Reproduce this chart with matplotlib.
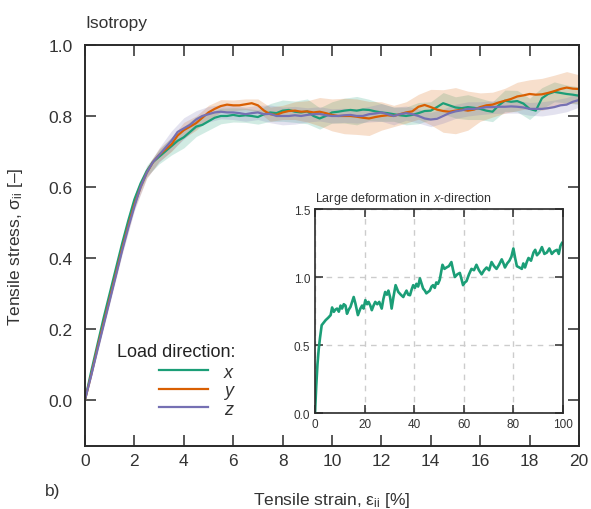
import numpy as np
import matplotlib.pyplot as plt

plt.rcParams['font.family'] = ['Liberation Sans', 'DejaVu Sans']
plt.rcParams['mathtext.fontset'] = 'custom'
plt.rcParams['mathtext.rm'] = 'Liberation Sans'
plt.rcParams['mathtext.it'] = 'Liberation Sans:italic'
plt.rcParams['text.color'] = '#333333'

# main plot: mean stress curves, sampled every 0.25 % strain
strain = np.linspace(0, 20, 81)
stress_x = [0.0, 0.08, 0.155, 0.23, 0.30, 0.37, 0.44, 0.505, 0.565, 0.61,
            0.645, 0.67, 0.685, 0.70, 0.715, 0.73, 0.74, 0.755, 0.77, 0.775,
            0.785, 0.795, 0.80, 0.80, 0.803, 0.80, 0.802, 0.80, 0.797, 0.805,
            0.81, 0.808, 0.815, 0.817, 0.812, 0.81, 0.813, 0.80, 0.793, 0.80,
            0.81, 0.812, 0.815, 0.817, 0.815, 0.818, 0.817, 0.813, 0.81, 0.808,
            0.805, 0.802, 0.80, 0.803, 0.808, 0.814, 0.815, 0.825, 0.836, 0.83,
            0.824, 0.822, 0.825, 0.823, 0.82, 0.815, 0.812, 0.83, 0.843, 0.84,
            0.842, 0.835, 0.82, 0.815, 0.85, 0.862, 0.868, 0.865, 0.862, 0.86,
            0.857]
stress_y = [0.0, 0.07, 0.145, 0.215, 0.285, 0.355, 0.425, 0.49, 0.55, 0.60,
            0.64, 0.67, 0.69, 0.705, 0.72, 0.745, 0.76, 0.77, 0.78, 0.795,
            0.81, 0.82, 0.828, 0.832, 0.83, 0.83, 0.833, 0.836, 0.83, 0.815,
            0.805, 0.803, 0.81, 0.814, 0.815, 0.812, 0.813, 0.81, 0.812, 0.808,
            0.803, 0.80, 0.80, 0.80, 0.798, 0.795, 0.793, 0.797, 0.80, 0.802,
            0.80, 0.805, 0.81, 0.813, 0.826, 0.831, 0.825, 0.818, 0.814, 0.812,
            0.815, 0.818, 0.815, 0.818, 0.825, 0.83, 0.832, 0.838, 0.843, 0.848,
            0.855, 0.858, 0.862, 0.86, 0.861, 0.865, 0.87, 0.876, 0.88, 0.877,
            0.876]
stress_z = [0.0, 0.068, 0.14, 0.21, 0.28, 0.35, 0.42, 0.485, 0.545, 0.60,
            0.64, 0.67, 0.69, 0.71, 0.73, 0.755, 0.765, 0.775, 0.79, 0.80,
            0.805, 0.81, 0.812, 0.81, 0.81, 0.808, 0.805, 0.808, 0.81, 0.805,
            0.806, 0.80, 0.80, 0.80, 0.802, 0.80, 0.803, 0.805, 0.806, 0.802,
            0.80, 0.80, 0.802, 0.803, 0.80, 0.80, 0.805, 0.807, 0.81, 0.805,
            0.80, 0.805, 0.808, 0.805, 0.80, 0.793, 0.79, 0.792, 0.80, 0.808,
            0.813, 0.816, 0.82, 0.82, 0.822, 0.825, 0.825, 0.826, 0.826, 0.827,
            0.826, 0.824, 0.82, 0.82, 0.82, 0.822, 0.825, 0.83, 0.832, 0.84,
            0.845]

# scatter band half-widths, every 0.5 % strain
spread_x = [0.0, 0.01, 0.01, 0.012, 0.012, 0.015, 0.02, 0.025, 0.03, 0.028,
            0.025, 0.022, 0.02, 0.02, 0.02, 0.025, 0.03, 0.03, 0.035, 0.03,
            0.03, 0.035, 0.04, 0.03, 0.025, 0.02, 0.025, 0.03, 0.025, 0.03,
            0.03, 0.035, 0.03, 0.028, 0.03, 0.03, 0.03, 0.03, 0.028, 0.025,
            0.025]
spread_y = [0.0, 0.008, 0.01, 0.012, 0.012, 0.015, 0.018, 0.02, 0.022, 0.02,
            0.02, 0.018, 0.015, 0.015, 0.018, 0.02, 0.02, 0.025, 0.03, 0.04,
            0.045, 0.05, 0.05, 0.048, 0.04, 0.03, 0.03, 0.035, 0.05, 0.06,
            0.065, 0.055, 0.04, 0.035, 0.035, 0.04, 0.04, 0.045, 0.045, 0.045,
            0.04]
spread_z = [0.0, 0.008, 0.01, 0.012, 0.012, 0.015, 0.02, 0.028, 0.03, 0.025,
            0.022, 0.02, 0.02, 0.02, 0.02, 0.025, 0.025, 0.025, 0.02, 0.02,
            0.02, 0.02, 0.02, 0.022, 0.025, 0.025, 0.02, 0.02, 0.02, 0.02,
            0.02, 0.02, 0.018, 0.018, 0.018, 0.018, 0.018, 0.02, 0.02, 0.02,
            0.02]

# inset: large deformation in x
big_strain = [0, 0.5, 1, 1.5, 2, 2.7, 3.5, 4.3, 5.3, 6.3,
              6.9, 7.6, 8.2, 8.9, 9.6, 10.3, 10.9, 11.6, 12.3, 12.9,
              13.6, 14.3, 15.0, 15.6, 16.3, 17.3, 18.3, 19.0, 19.6, 20.3,
              21.0, 21.6, 22.3, 22.9, 23.6, 24.3, 25.1, 25.9, 26.9, 27.6,
              28.3, 29.0, 29.6, 30.3, 30.9, 31.7, 32.5, 33.6, 34.6, 35.6,
              36.3, 36.9, 37.6, 38.3, 39.0, 39.6, 40.3, 40.9, 41.6, 42.3,
              43.0, 43.6, 44.3, 44.9, 45.6, 46.3, 47.0, 47.6, 48.3, 48.9,
              49.6, 50.3, 51.4, 52.2, 53.0, 54.0, 55.0, 55.7, 56.4, 57.4,
              58.4, 59.0, 59.7, 60.4, 61.1, 62.1, 63.1, 64.1, 65.1, 66.1,
              67.2, 68.2, 69.2, 70.2, 71.2, 72.2, 73.2, 74.2, 75.3, 76.0,
              76.6, 77.5, 78.4, 79.2, 80.0, 80.7, 81.4, 82.4, 83.4, 84.0,
              84.7, 85.4, 86.1, 87.1, 88.1, 88.8, 89.5, 90.5, 91.5, 92.5,
              93.5, 94.5, 95.5, 96.5, 97.6, 98.3, 99.0, 99.6]
big_stress = [0, 0.2, 0.36, 0.47, 0.55, 0.646, 0.665, 0.683, 0.70, 0.72,
              0.776, 0.744, 0.76, 0.768, 0.745, 0.79, 0.768, 0.80, 0.79, 0.73,
              0.76, 0.78, 0.82, 0.853, 0.805, 0.72, 0.768, 0.79, 0.768, 0.83,
              0.80, 0.817, 0.79, 0.756, 0.79, 0.817, 0.80, 0.817, 0.768, 0.84,
              0.89, 0.87, 0.90, 0.85, 0.768, 0.86, 0.94, 0.89, 0.87, 0.853,
              0.88, 0.90, 0.87, 0.866, 0.91, 0.94, 0.92, 0.95, 0.93, 0.99,
              0.95, 0.915, 0.90, 0.88, 0.89, 0.90, 0.93, 0.94, 0.92, 0.96,
              0.95, 0.98, 1.09, 1.06, 1.07, 1.08, 1.11, 1.05, 1.00, 1.02,
              1.03, 0.99, 0.94, 0.96, 0.97, 1.02, 1.06, 1.05, 1.09, 1.05,
              1.02, 1.05, 1.07, 1.05, 1.11, 1.08, 1.06, 1.09, 1.13, 1.10,
              1.07, 1.10, 1.12, 1.15, 1.21, 1.14, 1.08, 1.07, 1.06, 1.10,
              1.07, 1.11, 1.14, 1.12, 1.18, 1.20, 1.16, 1.18, 1.22, 1.17,
              1.18, 1.21, 1.17, 1.19, 1.20, 1.17, 1.23, 1.25]

labels = ['x', 'y', 'z']
colors = ['#1b9e77', '#d95f02', '#7570b3']
edge = '#2a2a2a'

fig = plt.figure(figsize=(5.91, 5.10), dpi=100)
ax = fig.add_axes([0.1438, 0.1235, 0.8359, 0.7863])

band_strain = strain[::2]
for mean, spread, col in zip([stress_x, stress_y, stress_z],
                             [spread_x, spread_y, spread_z], colors):
    m = np.array(mean)[::2]
    s = np.array(spread)
    ax.fill_between(band_strain, m - s, m + s, color=col, alpha=0.2, lw=0)
for mean, lab, col in zip([stress_x, stress_y, stress_z], labels, colors):
    ax.plot(strain, mean, color=col, lw=1.6, label=lab)

ax.set_xlim(0, 20)
ax.set_ylim(-0.13, 1.0)
ax.set_xticks(range(0, 21, 2))
ax.set_yticks([0.0, 0.2, 0.4, 0.6, 0.8, 1.0])
ax.set_yticklabels(['0.0', '0.2', '0.4', '0.6', '0.8', '1.0'])
ax.tick_params(direction='in', top=True, right=True, length=8, width=1.1,
               color=edge, labelsize=12.5, labelcolor='#333333')
ax.tick_params(axis='x', pad=5)
ax.tick_params(axis='y', pad=9)
for sp in ax.spines.values():
    sp.set_color(edge)
    sp.set_linewidth(1.4)

ax.set_xlabel('Tensile strain, $\\mathregular{ε_{ii}}$ [%]', fontsize=12.5,
              labelpad=16, color='#333333')
ax.set_ylabel('Tensile stress, $\\mathregular{σ_{ii}}$ [–]', fontsize=12.5,
              labelpad=17, color='#333333')

fig.text(85 / 591, 1 - 28 / 510, 'Isotropy', fontsize=12.5, va='baseline')
fig.text(45 / 591, 1 - 492 / 510, 'b)', fontsize=12.5, va='center')

# legend title drawn separately so its gap to the entries can be set
fig.text(235 / 591, 1 - 357 / 510, 'Load direction:', fontsize=13,
         ha='right', va='baseline', color='#222222')
ax.legend(frameon=False, loc='upper right', bbox_to_anchor=(0.30, 0.205),
          prop={'style': 'italic', 'size': 13},
          handlelength=2.7, handletextpad=0.9, labelspacing=0.08,
          borderpad=0, borderaxespad=0)

# inset
ins = fig.add_axes([0.533, 0.1882, 0.4196, 0.4])
ins.plot(big_strain, big_stress, color=colors[0], lw=1.9)
ins.set_xlim(0, 100)
ins.set_ylim(0, 1.5)
ins.set_xticks(range(0, 101, 20))
ins.set_yticks([0.0, 0.5, 1.0, 1.5])
ins.set_yticklabels(['0.0', '0.5', '1.0', '1.5'])
ins.grid(True, color='#cccccc', linestyle=(0, (4, 4)), lw=1.0)
ins.tick_params(direction='in', top=True, right=True, length=6, width=1.1,
                color=edge, labelsize=8.5, labelcolor='#333333', pad=3.5)
for sp in ins.spines.values():
    sp.set_color(edge)
    sp.set_linewidth(1.2)
ins.set_title('Large deformation in $\\mathit{x}$-direction', loc='left',
              fontsize=9, pad=6)

fig.savefig('out.png', dpi=100)
